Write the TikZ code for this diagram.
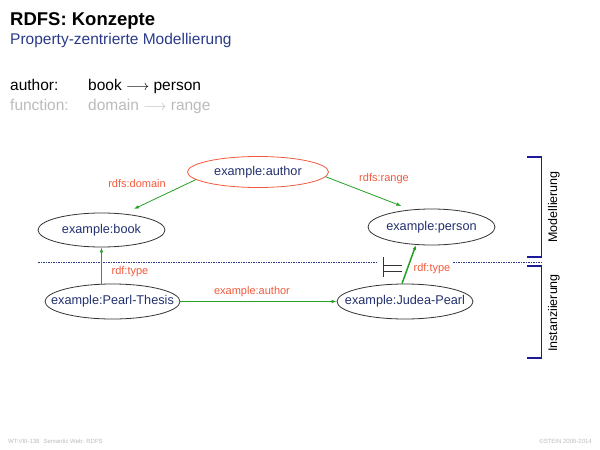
\documentclass[tikz,border=0pt]{standalone}
\usepackage{fontspec}
\setmainfont{Liberation Sans}
\usetikzlibrary{shapes.geometric,arrows.meta}
\definecolor{nodeblue}{HTML}{22306E}
\definecolor{labred}{HTML}{F05A3C}
\definecolor{arrgreen}{HTML}{22A022}
\definecolor{brblue}{HTML}{1A1A9A}
\definecolor{subblue}{HTML}{2A3A8A}
\definecolor{lgray}{HTML}{BBBBBB}
\newcommand{\zw}[1]{\makebox[0pt][c]{#1}}
\tikzset{
  ell/.style={ellipse, draw=black!80, line width=0.8pt, inner sep=0pt, text=nodeblue, font=\fontsize{12.7}{14}\selectfont},
  ellred/.style={ell, draw=labred},
  arr/.style={draw=arrgreen, line width=0.8pt, -{Latex[length=5pt,width=3.5pt]}},
  lab/.style={text=labred, font=\fontsize{11}{12}\selectfont, inner sep=0pt},
  brk/.style={draw=brblue, line width=1.4pt},
  sep/.style={draw=subblue, dash pattern=on 1.5pt off 1pt, line width=0.6pt},
  foot/.style={text=lgray, font=\fontsize{6}{7}\selectfont, inner sep=0pt},
  hdr/.style={anchor=base west, inner sep=0pt, font=\fontsize{15.5}{17}\selectfont}
}
\begin{document}
\begin{tikzpicture}[x=1pt,y=-1pt]
\useasboundingbox (0,0) rectangle (600,450);
% header
\node[anchor=base west, inner sep=0pt, font=\fontsize{18.5}{22}\selectfont\bfseries] (title) at (10,25) {RDFS: Konzepte};
\node[anchor=base west, inner sep=0pt, text=subblue, font=\fontsize{15.5}{17}\selectfont] (sub) at (10,44) {Property-zentrierte Modellierung};
\node[hdr] (a1) at (10,90) {author:};
\node[hdr] (a2) at (88,90) {book $\longrightarrow$ person};
\node[hdr, text=lgray] (f1) at (10,110) {function:};
\node[hdr, text=lgray] (f2) at (88,110) {domain $\longrightarrow$ range};
% nodes
\node[ellred, minimum width=141pt, minimum height=31pt] (auth) at (258,172) {\zw{example:author}};
\node[ell, minimum width=127pt, minimum height=34pt] (book) at (101.5,230) {\zw{example:book}};
\node[ell, minimum width=127pt, minimum height=36pt] (person) at (431.5,227) {\zw{example:person}};
\node[ell, minimum width=135pt, minimum height=35pt] (thesis) at (112.5,301.5) {\zw{example:Pearl-Thesis}};
\node[ell, minimum width=136pt, minimum height=35pt] (judea) at (405,301.5) {\zw{example:Judea-Pearl}};
% separator
\coordinate (s1) at (38,262); \coordinate (s2) at (377,262);
\coordinate (s3) at (453,262); \coordinate (s4) at (541,262);
\draw[sep] (s1) -- (s2);
\draw[sep] (s3) -- (s4);
% arrows
\draw[arr, shorten >=11pt] (auth.187) -- (book.36);
\draw[arr, shorten >=10pt] (auth.-4) -- (person.140);
\draw[arr] (thesis.north -| book.south) -- (book.south);
\draw[arr] (thesis) -- (judea);
\draw[arr, line width=1.5pt] (judea.north) ++(-3,0) -- (person.229);
% labels
\node[lab] (ldom) at (137,184) {rdfs:domain};
\node[lab] (lran) at (384,179) {rdfs:range};
\node[lab] (lt1) at (130,272) {rdf:type};
\node[lab] (lt2) at (432,269) {rdf:type};
\node[lab] (lauth) at (252,292) {example:author};
% turnstile
\coordinate (t1) at (383,257); \coordinate (t2) at (383,277);
\draw[line width=1pt, black!80] (t1) -- (t2);
\draw[line width=1pt, black!80] (383,265) -- (402,265);
\draw[line width=1pt, black!80] (383,271) -- (402,271);
% brackets
\draw[brk] (527,157) -- (541.5,157) -- (541.5,257) -- (527,257);
\draw[brk] (527,266) -- (541.5,266) -- (541.5,358) -- (527,358);
\node[rotate=90, inner sep=0pt, font=\fontsize{12.5}{14}\selectfont] (mod) at (554,207) {Modellierung};
\node[rotate=90, inner sep=0pt, font=\fontsize{12.5}{14}\selectfont] (inst) at (554,313) {Instanziierung};
% footer
\node[foot, anchor=base west] (fl) at (8,443) {WT:VIII-138\hspace{4pt}Semantic Web: RDFS};
\node[foot, anchor=base east] (fr) at (592,443) {©STEIN 2005-2014};
\end{tikzpicture}
\end{document}
